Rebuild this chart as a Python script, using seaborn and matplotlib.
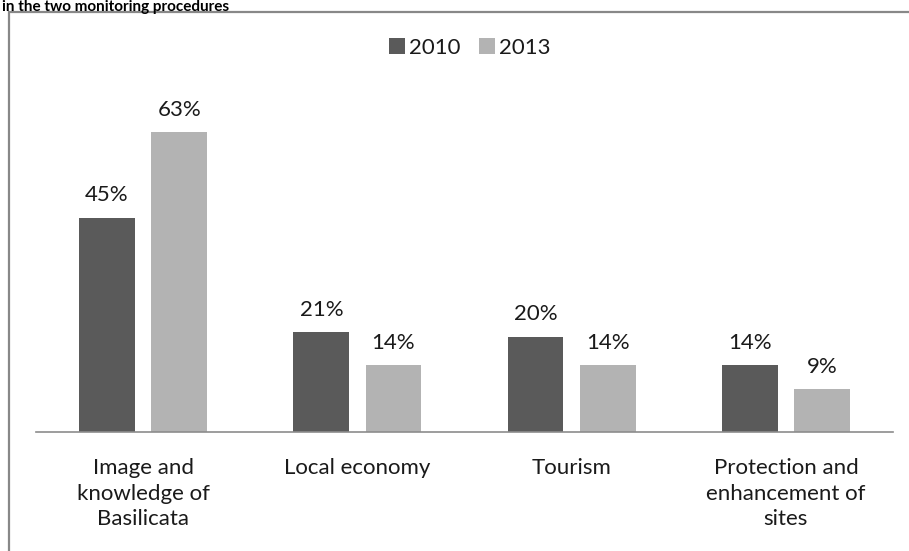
import matplotlib
matplotlib.use("Agg")
import matplotlib.pyplot as plt
import seaborn as sns
import pandas as pd
from matplotlib.patches import Rectangle

categories = ["Image and\nknowledge of\nBasilicata", "Local economy", "Tourism",
              "Protection and\nenhancement of\nsites"]
years = ["2010", "2013"]
values_2010 = [45, 21, 20, 14]
values_2013 = [63, 14, 14, 9]
title_text = "in the two monitoring procedures"

df = pd.DataFrame({
    "category": categories * 2,
    "year": [years[0]] * 4 + [years[1]] * 4,
    "value": values_2010 + values_2013,
})

sns.set_theme(style="white")
plt.rcParams["font.family"] = ["Lato", "DejaVu Sans"]

fig = plt.figure(figsize=(9.09, 5.51), dpi=100)
ax = fig.add_axes([36 / 909, 119 / 551, (893 - 36) / 909, 333 / 551])

palette = {"2010": "#5a5a5a", "2013": "#b3b3b3"}
sns.barplot(data=df, x="category", y="value", hue="year", palette=palette,
            width=0.673, gap=0.226, ax=ax, saturation=1, legend=True,
            edgecolor="none")

ax.set_ylim(0, 70)
ax.set_xlim(-0.5, 3.5)
ax.set_xlabel("")
ax.set_ylabel("")
ax.set_yticks([])
for s in ["top", "right", "left"]:
    ax.spines[s].set_visible(False)
ax.spines["bottom"].set_color("#8c8c8c")
ax.spines["bottom"].set_linewidth(1.2)
ax.tick_params(axis="x", length=0, pad=19, labelsize=16, colors="#1a1a1a")
for lbl in ax.get_xticklabels():
    lbl.set_linespacing(1.33)
    lbl.set_verticalalignment("top")

for cont in ax.containers:
    labels = [f"{int(v)}%" for v in cont.datavalues]
    ax.bar_label(cont, labels=labels, padding=9, fontsize=16, color="#1a1a1a")

leg = ax.legend(loc="center", bbox_to_anchor=(0.5 + 5 / 857, 1 + (99 - 48) / 333), ncol=2,
                frameon=False, fontsize=16, handlelength=0.7, handleheight=0.7,
                handletextpad=0.18, columnspacing=0.85)
for t in leg.get_texts():
    t.set_color("#1a1a1a")

# outer frame (clipped at right and bottom)
fig.patches.append(Rectangle((9 / 909, -0.05), 1.2, 1 - 12 / 551 + 0.05,
                             transform=fig.transFigure, fill=False,
                             edgecolor="#888888", linewidth=1.6))

fig.text(0.002, 1.0, title_text, fontsize=11, fontweight="bold",
         ha="left", va="top", color="#000000")

fig.savefig("out.png", dpi=100)
